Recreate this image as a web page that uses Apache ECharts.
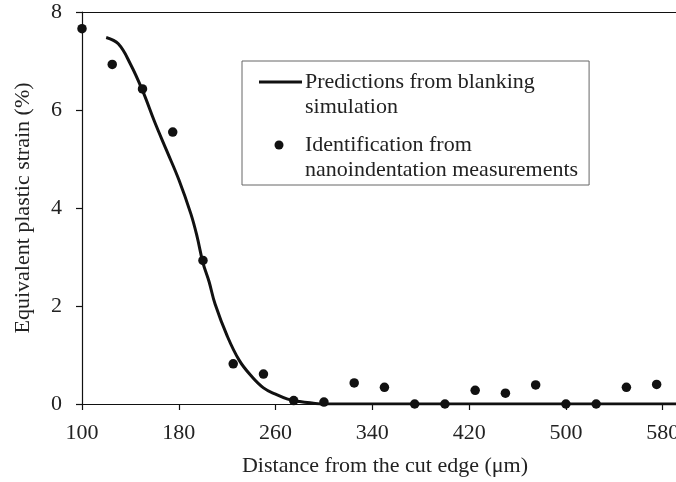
<!DOCTYPE html>
<html>
<head>
<meta charset="utf-8">
<script src="https://cdn.jsdelivr.net/npm/echarts@6/dist/echarts.min.js"></script>
<style>
html,body{margin:0;padding:0;background:#fff;}
#chart{width:676px;height:482px;}
</style>
</head>
<body>
<div id="chart"></div>
<script>
// ---- data ----
const xTickValues = [100, 180, 260, 340, 420, 500, 580];
const simName = 'Predictions from blanking simulation';
const measName = 'Identification from nanoindentation measurements';
const simX = [120, 130, 140, 150, 160, 170, 180, 190, 195, 200, 205, 210, 220, 230, 240, 250, 260, 270, 280, 290, 300, 591];
const simY = [7.48, 7.35, 6.94, 6.40, 5.76, 5.17, 4.58, 3.88, 3.43, 2.88, 2.50, 2.04, 1.39, 0.89, 0.57, 0.33, 0.20, 0.10, 0.05, 0.02, 0, 0];
const measX = [100, 125, 150, 175, 200, 225, 250, 275, 300, 325, 350, 375, 400, 425, 450, 475, 500, 525, 550, 575];
const measY = [7.66, 6.93, 6.43, 5.55, 2.93, 0.82, 0.61, 0.07, 0.04, 0.43, 0.34, 0, 0, 0.28, 0.22, 0.39, 0, 0, 0.34, 0.40];

const FONT = '"Liberation Serif", "Times New Roman", serif';
const FS = 22;
const TXT = '#222';
const INK = '#111';

const simData = simX.map((x, i) => [x, simY[i]]);
const measData = measX.map((x, i) => [x, measY[i]]);

const chart = echarts.init(document.getElementById('chart'));
chart.setOption({
  animation: false,
  backgroundColor: '#fff',
  grid: { left: 82, right: 0, top: 12, bottom: 78, containLabel: false, outerBoundsMode: 'none' },
  legend: {
    left: 242, top: 61,
    orient: 'vertical',
    selectedMode: false,
    padding: [10, 11, 4, 12],
    itemGap: 16,
    itemWidth: 0, itemHeight: 0,
    icon: 'rect',
    itemStyle: { color: 'rgba(0,0,0,0)', borderWidth: 0 },
    lineStyle: { width: 0, opacity: 0 },
    borderColor: '#666', borderWidth: 1,
    data: [simName, measName],
    formatter: function (name) {
      if (name === simName) {
        return '{line|}{gap|}{t|Predictions from blanking}\n{sp|}{t|simulation}';
      }
      return '{pre|}{dot|}{post|}{t|Identification from}\n{sp|}{t|nanoindentation measurements}';
    },
    textStyle: {
      fontFamily: FONT, fontSize: FS, color: TXT,
      rich: {
        t: { fontFamily: FONT, fontSize: FS, color: TXT, lineHeight: 25 },
        line: { width: 43, height: 3, backgroundColor: INK },
        gap: { width: 3 },
        sp: { width: 46 },
        pre: { width: 15.5 },
        dot: { width: 9, height: 9, borderRadius: 4.5, backgroundColor: INK },
        post: { width: 21.5 }
      }
    }
  },
  xAxis: [{
    type: 'value',
    min: 100, max: 591,
    position: 'bottom',
    name: 'Distance from the cut edge (\u03bcm)',
    nameLocation: 'middle',
    nameGap: 51,
    nameTextStyle: { fontFamily: FONT, fontSize: FS, color: TXT, padding: [0, 0, 0, 12] },
    axisLine: { show: true, onZero: false, lineStyle: { color: INK, width: 1.2 } },
    axisTick: { show: true, inside: false, length: 6, customValues: xTickValues, lineStyle: { color: INK, width: 1.2 } },
    axisLabel: { show: true, margin: 18, customValues: xTickValues, fontFamily: FONT, fontSize: FS, color: TXT },
    splitLine: { show: false }
  }, {
    type: 'value',
    min: 100, max: 591,
    position: 'top',
    axisLine: { show: true, onZero: false, lineStyle: { color: INK, width: 1.2 } },
    axisTick: { show: false },
    axisLabel: { show: false },
    splitLine: { show: false }
  }],
  yAxis: {
    type: 'value',
    min: 0, max: 8, interval: 2,
    name: 'Equivalent plastic strain (%)',
    nameLocation: 'middle',
    nameGap: 48,
    nameTextStyle: { fontFamily: FONT, fontSize: FS, color: TXT },
    axisLine: { show: true, lineStyle: { color: INK, width: 1.2 } },
    axisTick: { show: true, inside: false, length: 6, lineStyle: { color: INK, width: 1.2 } },
    axisLabel: { margin: 20, fontFamily: FONT, fontSize: FS, color: TXT },
    splitLine: { show: false }
  },
  series: [{
    name: simName,
    type: 'line',
    data: simData,
    smooth: 0.4,
    showSymbol: false,
    symbol: 'none',
    lineStyle: { color: INK, width: 3 },
    itemStyle: { color: INK },
    z: 2
  }, {
    name: measName,
    type: 'scatter',
    data: measData,
    symbol: 'circle',
    symbolSize: 9.5,
    itemStyle: { color: INK, opacity: 1 },
    z: 3
  }]
});
</script>
</body>
</html>
